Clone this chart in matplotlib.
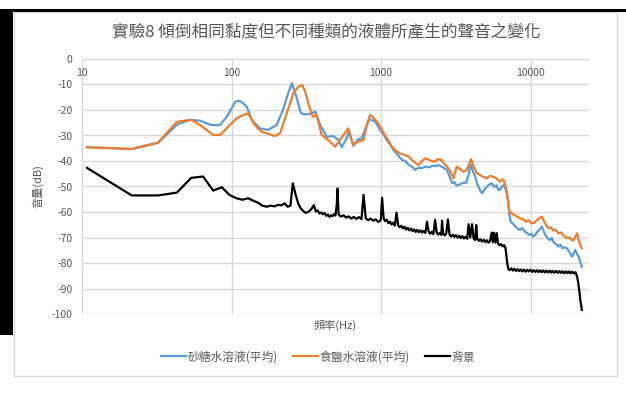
import numpy as np
import matplotlib.pyplot as plt
from matplotlib.patches import Rectangle
from matplotlib.lines import Line2D

plt.rcParams['font.family'] = ['Noto Sans CJK TC', 'DejaVu Sans']
plt.rcParams['font.weight'] = 'light'

title = '實驗8 傾倒相同黏度但不同種類的液體所產生的聲音之變化'
names = ['砂糖水溶液(平均)', '食鹽水溶液(平均)', '背景']
colors = ['#5B9BD5', '#ED7D31', '#000000']

# 砂糖水溶液 (平均)
sugar_f = [10.8, 21.5, 32.3, 43.1, 52.7, 61.5, 73.6, 83.8, 93, 100, 105.7, 112, 117, 126.5,
           136.6, 155, 176, 200, 221, 239, 253, 272, 290, 301, 333, 363, 392, 433, 478,
           519, 546, 590, 610, 653, 700, 743, 790, 835, 915, 986, 1050, 1090, 1150, 1210,
           1290, 1380, 1450, 1530, 1610, 1690, 1780, 1870, 1980, 2100, 2200, 2300, 2420,
           2560, 2760, 2870, 2990, 3100, 3200, 3300, 3450, 3600, 3690, 3800, 3990, 4120,
           4270, 4400, 4600, 4740, 4900, 5100, 5300, 5500, 5700, 5900, 6100, 6240, 6400,
           6630, 6850, 7080, 7200, 7360, 7600, 7900, 8200, 8500, 8800, 9100, 9450, 9800,
           10100, 10450, 10800, 11200, 11550, 11900, 12300, 12700, 13100, 13500, 13900,
           14300, 14800, 15400, 15800, 16300, 16900, 17500, 18100, 18900, 19400, 19900,
           20450, 21000, 21500, 22000]
sugar_db = [-34.6, -35.3, -32.8, -25.8, -23.8, -24.2, -25.9, -25.9, -22.6, -19.5, -16.8, -16.4,
            -16.8, -18.7, -23.9, -27.2, -27.8, -25.9, -20.0, -13.5, -9.5, -14.8, -21.0, -21.7,
            -21.6, -20.7, -25.9, -30.5, -30.2, -31.8, -34.6, -31.1, -28.1, -34.1, -31.5, -31.1,
            -27.0, -23.6, -24.6, -27.8, -30.0, -31.8, -33.5, -35.7, -37.5, -39.6, -40.0, -41.5,
            -42.2, -43.5, -42.6, -42.8, -42.2, -42.5, -41.9, -42.0, -41.6, -42.3, -43.5, -46.0,
            -48.7, -48.3, -49.6, -49.4, -48.8, -48.5, -48.7, -46.5, -41.6, -44.0, -46.2, -49.0,
            -51.5, -52.7, -51.3, -50.0, -49.2, -48.7, -50.2, -49.5, -51.4, -51.4, -50.2, -49.4,
            -51.5, -55.3, -60.5, -63.8, -64.5, -65.6, -66.5, -67.1, -66.3, -67.5, -68.2, -69.0,
            -68.5, -69.7, -68.8, -67.5, -66.8, -65.7, -67.8, -69.5, -70.5, -71.0, -70.2, -72.0,
            -72.6, -73.6, -72.8, -74.2, -73.8, -74.2, -75.5, -77.5, -76.2, -74.9, -76.5, -77.5,
            -79.5, -81.4]

# 食鹽水溶液 (平均)
salt_f = [10.8, 21.5, 32.3, 43.1, 54, 61.5, 75.5, 84, 95, 108, 119.5, 129, 143, 159, 195,
          211, 234, 259, 280, 297, 312, 326, 349, 371, 401, 445, 493, 531, 565, 604, 625,
          653, 690, 762, 800, 843, 880, 915, 950, 986, 1060, 1120, 1180, 1260, 1340, 1445,
          1530, 1610, 1700, 1780, 1880, 1980, 2100, 2250, 2370, 2490, 2620, 2760, 2900,
          3050, 3210, 3350, 3550, 3750, 3990, 4150, 4370, 4600, 4800, 5100, 5350, 5640,
          5900, 6240, 6450, 6630, 6900, 7190, 7400, 7700, 8000, 8500, 8900, 9300, 9700,
          10100, 10450, 10900, 11400, 11900, 12300, 12800, 13200, 13700, 14200, 14800,
          15400, 16000, 16700, 17500, 18200, 19000, 19400, 20000, 20450, 20900, 21300,
          22000]
salt_db = [-34.6, -35.3, -32.8, -24.6, -23.9, -25.9, -29.8, -29.8, -26.5, -23.3, -22.0, -21.3,
           -25.9, -28.5, -30.2, -29.2, -21.3, -13.5, -10.8, -10.2, -13.0, -17.4, -22.6, -22.0,
           -29.8, -31.8, -34.4, -31.8, -29.5, -27.2, -30.5, -33.7, -32.5, -31.8, -26.5, -22.0,
           -22.8, -23.9, -25.0, -26.5, -29.8, -32.0, -34.4, -36.0, -37.0, -37.6, -38.3, -39.6,
           -40.8, -41.6, -40.0, -38.9, -39.6, -40.3, -39.5, -39.3, -40.8, -42.2, -44.0, -46.8,
           -42.2, -43.0, -44.2, -43.5, -39.3, -42.0, -44.8, -45.5, -46.2, -46.8, -45.9, -46.2,
           -46.8, -48.1, -47.2, -47.5, -51.4, -59.2, -60.5, -61.0, -61.5, -62.5, -62.8, -63.8,
           -63.2, -64.3, -64.4, -63.5, -62.5, -61.8, -63.5, -65.5, -66.4, -66.0, -67.3, -67.0,
           -68.4, -68.0, -69.5, -70.3, -70.0, -71.2, -71.0, -69.5, -68.4, -70.5, -72.3, -74.2]

# 背景
bg_f = [10.8, 21.5, 32.3, 43.1, 53.8, 64.6, 75.4, 86.1, 96.9, 107.7, 118.4, 129.2, 140.0,
        150.7, 161.5, 172.3, 183.0, 193.8, 204.5, 215.3, 226.1, 236.9, 247.6, 257, 269.2,
        279.9, 290.7, 301.5, 312.2, 323.0, 333.7, 344.5, 355.3, 366.1, 376.8, 387.6, 398.3,
        409.1, 419.9, 430.7, 441.4, 452.2, 463.0, 473.7, 484.5, 495.3, 506.0, 511.4, 520,
        540, 562, 585, 608, 632, 657, 684, 711, 740, 764, 790, 820, 852, 886, 921, 958, 996,
        1017, 1040, 1066, 1093, 1120, 1148, 1177, 1206, 1236, 1270, 1300, 1332, 1365, 1400,
        1435, 1470, 1507, 1545, 1584, 1623, 1664, 1705, 1748, 1792, 1837, 1883, 1930, 1980,
        2030, 2080, 2130, 2185, 2240, 2300, 2355, 2415, 2475, 2530, 2560, 2600, 2665, 2730,
        2800, 2870, 2940, 3015, 3090, 3170, 3250, 3330, 3410, 3500, 3585, 3675, 3770, 3850,
        3950, 4060, 4160, 4260, 4330, 4400, 4510, 4625, 4740, 4860, 4980, 5100, 5230, 5360,
        5500, 5600, 5700, 5820, 5940, 6050, 6200, 6350, 6500, 6660, 6800, 6900, 7000, 7100,
        7250, 7430, 7620, 7810, 8000, 8200, 8400, 8610, 8830, 9050, 9280, 9510, 9750, 10000,
        10250, 10500, 10760, 11030, 11310, 11590, 11880, 12180, 12480, 12800, 13120, 13440,
        13780, 14120, 14480, 14840, 15210, 15590, 15980, 16380, 16790, 17210, 17640, 18080,
        18530, 19000, 19470, 19960, 20200, 20500, 20800, 21000, 21300, 21500, 21800, 22000]
bg_db = [-42.7, -53.5, -53.5, -52.4, -46.6, -46.1, -51.6, -50.3, -53.3, -54.6, -55.2, -54.6,
         -55.6, -56.4, -57.6, -57.9, -57.5, -57.8, -57.2, -57.4, -56.6, -57.9, -57.6, -48.8,
         -53.5, -56.8, -58.6, -59.6, -60.3, -60.1, -59.5, -58.6, -57.3, -59.8, -59.4, -60.6,
         -60.2, -60.9, -60.4, -61.5, -61.0, -61.9, -61.3, -61.6, -60.9, -61.4, -57.0, -50.8,
         -61.0, -61.8, -61.3, -62.2, -61.7, -62.6, -61.9, -62.7, -62.0, -62.8, -53.3, -62.4,
         -63.2, -62.6, -63.4, -62.9, -63.9, -63.2, -54.4, -62.5, -63.6, -63.0, -64.4, -63.8,
         -64.9, -64.2, -65.3, -60.3, -65.2, -66.0, -65.4, -66.4, -65.8, -66.9, -66.2, -67.2,
         -66.5, -67.5, -66.8, -67.8, -67.0, -67.9, -67.2, -68.1, -67.4, -68.2, -63.8, -67.6,
         -68.5, -67.8, -68.7, -63.1, -68.0, -68.9, -68.2, -69.0, -63.4, -68.3, -69.2, -68.5,
         -62.9, -68.8, -69.6, -68.9, -69.8, -69.1, -70.0, -69.3, -70.2, -69.5, -70.4, -69.7,
         -70.5, -64.8, -70.0, -64.8, -70.3, -71.0, -65.1, -70.5, -71.3, -70.7, -71.6, -70.9,
         -71.8, -71.1, -72.0, -71.4, -68.1, -71.8, -68.1, -72.0, -68.3, -72.3, -73.0, -72.6,
         -73.5, -73.0, -74.2, -77.5, -80.5, -82.3, -82.8, -82.1, -83.0, -82.3, -83.1, -82.4,
         -83.2, -82.5, -83.3, -82.6, -83.4, -82.7, -83.3, -82.6, -83.5, -82.8, -83.5, -82.8,
         -83.6, -82.9, -83.6, -82.9, -83.7, -83.0, -83.7, -83.0, -83.8, -83.1, -83.8, -83.1,
         -83.9, -83.2, -83.9, -83.2, -84.0, -83.3, -84.0, -83.3, -84.1, -83.4, -84.1, -83.6,
         -84.3, -85.5, -87.5, -89.3, -92.0, -94.5, -96.5, -98.4]

W, H = 626, 419
fig = plt.figure(figsize=(W / 100, H / 100), dpi=100)

# outer frame: black edge on top/left, light grey chart border
fig.add_artist(Rectangle((14 / W, 1 - 376 / H), 603 / W, 364 / H, transform=fig.transFigure,
                         fill=False, ec='#D9D9D9', lw=1))
fig.add_artist(Line2D([0, 1], [1 - 10.5 / H] * 2, transform=fig.transFigure, color='black', lw=2.2))
fig.add_artist(Rectangle((0, 1 - 335 / H), 13 / W, 325 / H, transform=fig.transFigure,
                         color='black', lw=0))

ax = fig.add_axes([82 / W, 1 - 314 / H, 507 / W, 255 / H])
ax.set_xscale('log')
for f, db, c, n in zip([sugar_f, salt_f, bg_f], [sugar_db, salt_db, bg_db], colors, names):
    ax.plot(f, db, color=c, lw=1.6, label=n, solid_joinstyle='round')

ax.set_xlim(10, 24600)
ax.set_ylim(-100, 0)
ax.set_yticks(range(-100, 1, 10))
ax.set_yticklabels([str(v) for v in range(-100, 1, 10)])
ax.set_xticks([10, 100, 1000, 10000])
ax.set_xticklabels(['10', '100', '1000', '10000'])
ax.xaxis.set_minor_locator(plt.NullLocator())
ax.tick_params(axis='y', length=0, pad=7, labelsize=7.5, labelcolor='#595959')
ax.tick_params(axis='x', length=0, bottom=False, top=False, labelbottom=False, labeltop=True,
               pad=-14, labelsize=7.5, labelcolor='#595959')
for s in ax.spines.values():
    s.set_visible(False)
ax.grid(True, color='#D9D9D9', lw=1)
ax.set_axisbelow(True)

ax.set_xlabel('頻率(Hz)', fontsize=8, color='#595959', labelpad=4)
ax.set_ylabel('音量(dB)', fontsize=8, color='#595959', labelpad=6)
fig.text(326 / W, 1 - 33 / H, title, ha='center', va='center', fontsize=12, color='#595959')

fig.legend(loc='center', bbox_to_anchor=(318 / W, 1 - 357 / H), ncol=3, frameon=False,
           fontsize=8.5, labelcolor='#595959', handlelength=2.1, handletextpad=0.15,
           columnspacing=1.3)

fig.savefig('out.png', dpi=100)
